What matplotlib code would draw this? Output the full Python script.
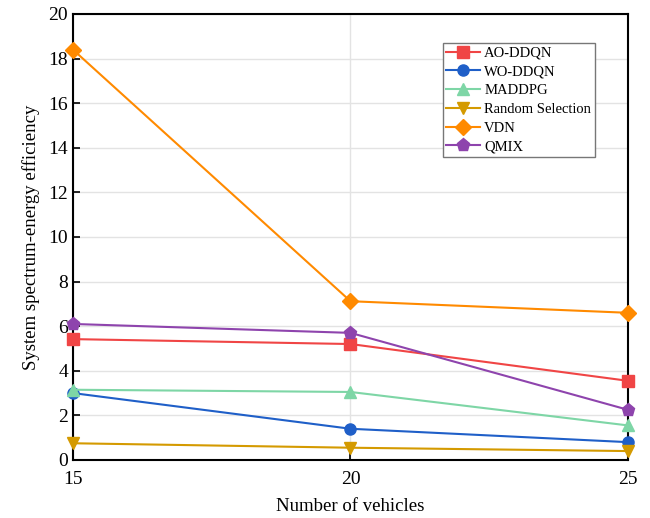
import numpy as np
import matplotlib.pyplot as plt

plt.rcParams['font.family'] = ['Liberation Serif', 'DejaVu Serif']
plt.rcParams['mathtext.fontset'] = 'stix'

# vehicle counts and efficiency per method
vehicles = [15, 20, 25]
ao_ddqn = [5.42, 5.20, 3.55]
wo_ddqn = [3.00, 1.40, 0.80]
maddpg = [3.15, 3.05, 1.55]
random_sel = [0.75, 0.55, 0.40]
vdn = [18.40, 7.12, 6.60]
qmix = [6.10, 5.70, 2.25]

series = [
    ("AO-DDQN", ao_ddqn, '#f04545', 's', 8),
    ("WO-DDQN", wo_ddqn, '#1f5fc8', 'o', 8),
    ("MADDPG", maddpg, '#7ed6a6', '^', 9),
    ("Random Selection", random_sel, '#d49a00', 'v', 9),
    ("VDN", vdn, '#ff8a00', 'D', 8.5),
    ("QMIX", qmix, '#8e44ad', 'p', 9.5),
]

fig = plt.figure(figsize=(6.5, 5.18), dpi=100)
ax = fig.add_axes([0.1123, 0.112, 0.8538, 0.861])

for name, vals, col, mk, ms in series:
    ax.plot(vehicles, vals, color=col, marker=mk, markersize=ms, lw=1.5,
            label=name, clip_on=False, zorder=3)

ax.set_xlim(15, 25)
ax.set_ylim(0, 20)
ax.set_xticks([15, 20, 25])
ax.set_yticks(np.arange(0, 21, 2))
ax.grid(True, color='#e3e3e3', lw=1)
ax.set_axisbelow(True)
ax.tick_params(direction='in', labelsize=14, length=5, width=1.2)
ax.tick_params(axis='x', pad=8)
for sp in ax.spines.values():
    sp.set_linewidth(1.5)

ax.set_xlabel("Number of vehicles", fontsize=13.5, labelpad=7)
ax.set_ylabel("System spectrum-energy efficiency", fontsize=13.5, labelpad=6)

leg = ax.legend(loc='upper right', bbox_to_anchor=(0.94, 0.935), fontsize=10.5,
                fancybox=False, edgecolor='#777777', framealpha=1,
                handlelength=2.3, handletextpad=0.3, borderpad=0.25,
                labelspacing=0.38, borderaxespad=0)
leg.get_frame().set_linewidth(1)

fig.savefig("out.png", dpi=100)
